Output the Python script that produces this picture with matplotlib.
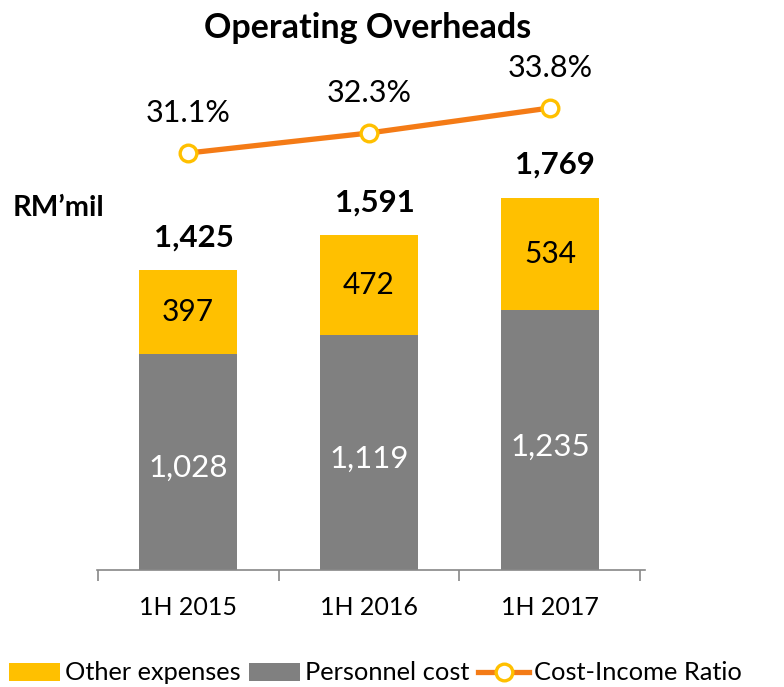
import matplotlib
matplotlib.use("Agg")
import matplotlib.pyplot as plt
from matplotlib.patches import Patch
from matplotlib.lines import Line2D

categories = ["1H 2015", "1H 2016", "1H 2017"]
personnel = [1028, 1119, 1235]
other = [397, 472, 534]
totals = [1425, 1591, 1769]
ratio = [31.1, 32.3, 33.8]
ratio_labels = ["31.1%", "32.3%", "33.8%"]

YELLOW = "#FFC000"
GRAY = "#808080"
ORANGE = "#F47B16"
FONT = ["Lato", "DejaVu Sans"]
plt.rcParams["font.family"] = FONT

fig = plt.figure(figsize=(7.84, 6.87), dpi=100)
W, H = 784, 687
ax = fig.add_axes([97 / W, 117 / H, 548 / W, 530 / H])
x = list(range(len(categories)))
bw = 0.54
ax.bar(x, personnel, width=bw, color=GRAY)
ax.bar(x, other, width=bw, bottom=personnel, color=YELLOW)
ax.set_xlim(-0.503, 2.525)
ax.set_ylim(0, 2520)

for i in x:
    ax.text(i, personnel[i] / 2 - 30, f"{personnel[i]:,}", ha="center", va="center",
            color="white", fontsize=22.5)
    ax.text(i, personnel[i] + other[i] / 2, f"{other[i]:,}", ha="center", va="center",
            color="black", fontsize=21.5)
    ax.text(i + 0.03, totals[i] + 90, f"{totals[i]:,}", ha="center", va="bottom",
            color="black", fontsize=22.5, fontweight="bold")

for s in ["top", "right", "left"]:
    ax.spines[s].set_visible(False)
ax.spines["bottom"].set_color("#888888")
ax.spines["bottom"].set_linewidth(1.2)
ax.set_yticks([])
ax.set_xticks([-0.5, 0.5, 1.5, 2.5])
ax.set_xticklabels([])
ax.tick_params(axis="x", which="major", length=8, color="#888888", width=1.2)
ax.set_xticks(x, minor=True)
ax.set_xticklabels(categories, minor=True, fontsize=18)
ax.tick_params(axis="x", which="minor", length=0, pad=19)

ax2 = ax.twinx()
ax2.set_ylim(6.13, 37.87)
ax2.set_axis_off()
ax2.plot(x, ratio, color=ORANGE, lw=3.8, marker="o", markersize=12,
         markerfacecolor="white", markeredgecolor=YELLOW, markeredgewidth=2.4, zorder=3)
for i in x:
    ax2.text(i, ratio[i] + 1.55, ratio_labels[i], ha="center", va="bottom", fontsize=22)

fig.text(368 / W, 1 - 28 / H, "Operating Overheads", ha="center", va="center",
         fontsize=24.5, fontweight="bold")
fig.text(13 / W, 1 - 208 / H, "RM\u2019mil", ha="left", va="center",
         fontsize=21, fontweight="bold")

handles = [Patch(facecolor=YELLOW), Patch(facecolor=GRAY),
           Line2D([0], [0], color=ORANGE, lw=3.8, marker="o", markersize=12,
                  markerfacecolor="white", markeredgecolor=YELLOW, markeredgewidth=2.4)]
fig.legend(handles, ["Other expenses", "Personnel cost", "Cost-Income Ratio"],
           loc="center left", bbox_to_anchor=(0.008, 1 - 673 / H), ncol=3, frameon=False,
           fontsize=18.3, handlelength=2.0, handletextpad=0.2, columnspacing=0.35,
           borderaxespad=0, borderpad=0.1)

fig.savefig("out.png", dpi=100)
